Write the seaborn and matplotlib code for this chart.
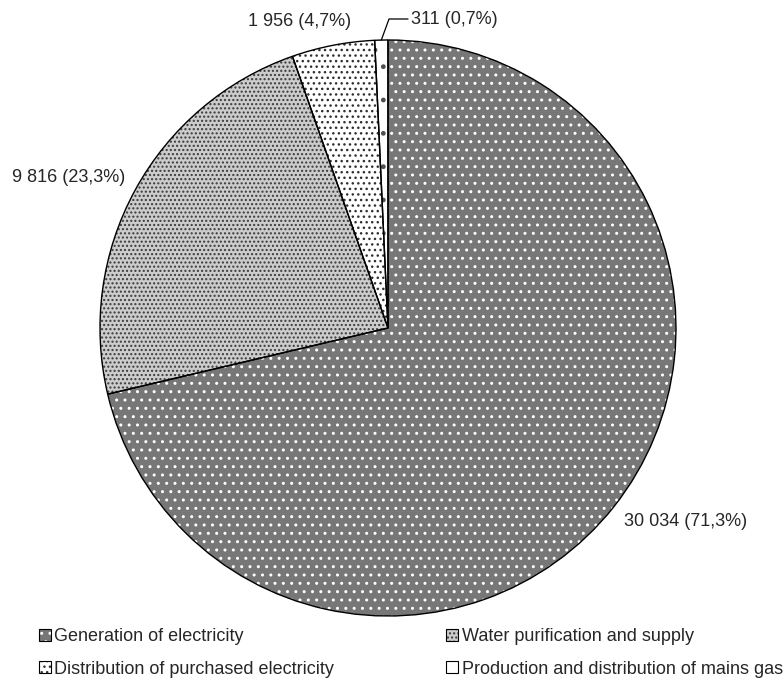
import numpy as np
import matplotlib
matplotlib.use("Agg")
import matplotlib.pyplot as plt
from matplotlib.patches import Patch
import seaborn as sns

# Output of utilities by activity
categories = [
    "Generation of electricity",
    "Water purification and supply",
    "Distribution of purchased electricity",
    "Production and distribution of mains gas",
]
values = [30034, 9816, 1956, 311]
shares = [71.3, 23.3, 4.7, 0.7]

sns.set_theme(style="white")
plt.rcParams["font.family"] = ["Liberation Sans", "DejaVu Sans"]
plt.rcParams["hatch.linewidth"] = 1.0

# fill colour, hatch pattern and hatch colour for each slice
face_colors = ["#777777", "#cccccc", "#ffffff", "#ffffff"]
hatches = ["..", "....", "...", "."]
hatch_colors = ["#ffffff", "#3a3a3a", "#303030", "#505050"]
# the legend squares are too small to show the sparse gas texture
legend_hatches = ["..", "....", "...", ""]

FS = 13

fig = plt.figure(figsize=(7.83, 6.8), dpi=100)
R_PX = 288
CX, CY = 388, 328
ax = fig.add_axes([(CX - R_PX) / 783, (680 - CY - R_PX) / 680,
                   2 * R_PX / 783, 2 * R_PX / 680])

# pass 1: textured fills
fills, _ = ax.pie(values, startangle=90, counterclock=False, radius=1,
                  wedgeprops=dict(linewidth=0))
for w, fc, h, hc in zip(fills, face_colors, hatches, hatch_colors):
    w.set_facecolor(fc)
    w.set_edgecolor(hc)
    w.set_hatch(h)
    w.set_linewidth(0)

# pass 2: black outlines
outlines, _ = ax.pie(values, startangle=90, counterclock=False, radius=1,
                     wedgeprops=dict(fill=False, edgecolor="black", linewidth=1.0))

ax.set_xlim(-1, 1)
ax.set_ylim(-1, 1)
ax.set_aspect("equal")
ax.axis("off")


def fmt(v, s):
    return f"{v:,}".replace(",", " ") + " (" + f"{s:.1f}".replace(".", ",") + "%)"


labels = [fmt(v, s) for v, s in zip(values, shares)]

# label placement in axes data units (radius = 1)
def px(x, y):
    return (x - CX) / R_PX, (CY - y) / R_PX

ax.text(*px(686, 522), labels[0], ha="center", va="center", fontsize=FS, clip_on=False)
ax.text(*px(69, 177), labels[1], ha="center", va="center", fontsize=FS, clip_on=False)
ax.text(*px(300, 22), labels[2], ha="center", va="center", fontsize=FS, clip_on=False)
ax.text(*px(411, 19), labels[3], ha="left", va="center", fontsize=FS, clip_on=False)

# leader line for the smallest slice
w = outlines[3]
mid = np.deg2rad((w.theta1 + w.theta2) / 2)
x0, y0 = np.cos(mid), np.sin(mid)
x1, y1 = px(389, 19)
x2, y2 = px(408, 19)
ax.plot([x0, x1, x2], [y0, y1, y2], color="black", lw=0.9, clip_on=False)

# legend with small textured squares
handles = []
for fc, h, hc in zip(face_colors, legend_hatches, hatch_colors):
    fill = Patch(facecolor=fc, edgecolor=hc, hatch=h or None, linewidth=0)
    edge = Patch(facecolor="none", edgecolor="black", linewidth=0.8)
    handles.append((fill, edge))

order = [0, 2, 1, 3]
fig.legend([handles[i] for i in order], [categories[i] for i in order],
           ncol=2, loc="upper left", bbox_to_anchor=(39 / 783, 1 - 628 / 680),
           frameon=False, fontsize=FS, handlelength=0.65, handleheight=0.65,
           handletextpad=0.2, columnspacing=6.2, labelspacing=0.87,
           borderpad=0, borderaxespad=0)

fig.savefig("out.png", dpi=100)
